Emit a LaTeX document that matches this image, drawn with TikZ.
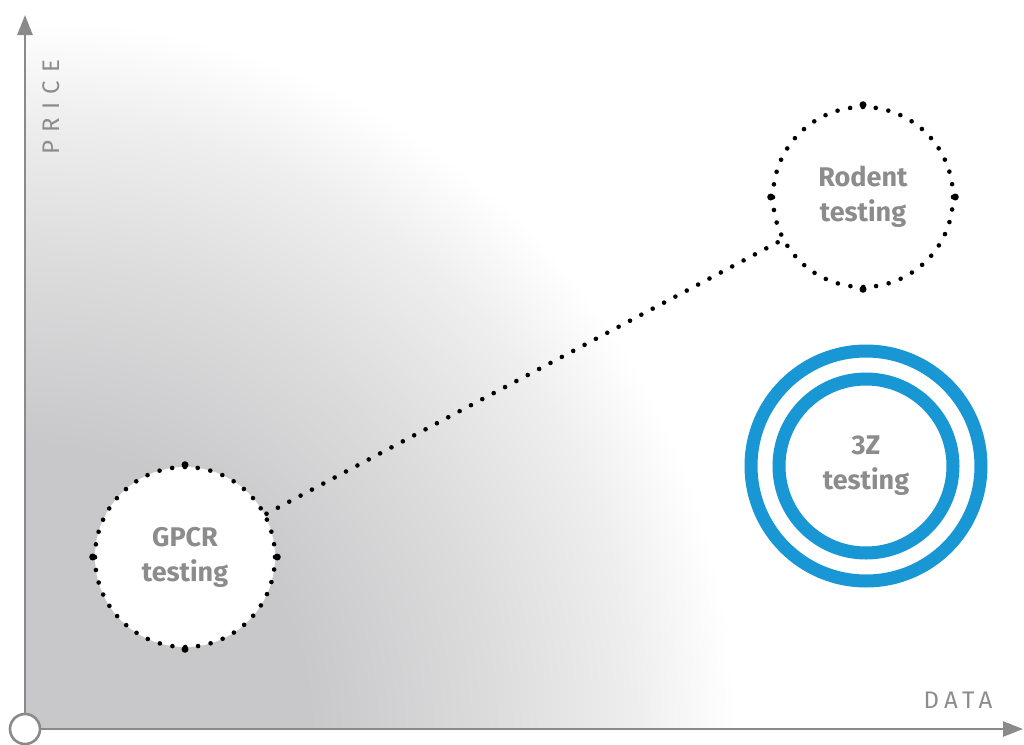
\documentclass[tikz,border=0pt]{standalone}
\usepackage{fontspec}
\setmainfont{Fira Sans}
\newfontfamily\axisfont[LetterSpace=22]{Fira Sans}
\newfontfamily\pricefont[LetterSpace=34]{Fira Sans}
\usetikzlibrary{arrows.meta}

\definecolor{axisgray}{RGB}{138,138,138}
\definecolor{labelgray}{RGB}{140,140,140}
\definecolor{ringblue}{RGB}{25,150,212}
\definecolor{fadedark}{RGB}{200,200,202}
\definecolor{fademid}{RGB}{220,220,221}
\definecolor{fadelight}{RGB}{238,238,238}

\pgfdeclareradialshading{pricefade}{\pgfpoint{0bp}{0bp}}{color(0bp)=(fadedark); color(10bp)=(fadedark); color(16.5bp)=(fademid); color(21.5bp)=(fadelight); color(25bp)=(white); color(50bp)=(white)}

\begin{document}
\begin{tikzpicture}[x=0.5pt,y=-0.5pt,
  dotline/.style={line width=2.3pt, dash pattern=on 0pt off 6.43pt, line cap=round},
  testnode/.style={circle, inner sep=0pt, minimum size=90pt, fill=white, text=labelgray, align=center, font=\fontsize{13.5}{17.5}\selectfont\bfseries},
  ring/.style={draw=ringblue, line width=6.5pt},
  axis/.style={draw=axisgray, line width=1.3pt, -{Triangle[length=10pt,width=7.5pt]}},
  axislabel/.style={text=labelgray, font=\axisfont\fontsize{12}{14}\selectfont}]
  \useasboundingbox (0,0) rectangle (1024,745);

  % grey fade in the corner
  \begin{scope}
    \clip (25,0) rectangle (1024,729);
    \shade[shading=pricefade] (25,729) circle (710);
  \end{scope}

  \node[circle, draw=axisgray, line width=1.3pt, fill=white, inner sep=0pt, minimum size=15pt] (origin) at (25,729) {};
  \coordinate (ytip) at (25,15);
  \coordinate (xtip) at (1023,729);
  \draw[axis] (origin) -- (ytip);
  \draw[axis] (origin) -- (xtip);
  \node[axislabel, font=\pricefont\fontsize{12}{14}\selectfont, rotate=90] (pricelabel) at (51,107) {PRICE};
  \node[axislabel] (datalabel) at (958,700) {DATA};

  \node[testnode, draw=black, dotline] (gpcr) at (185,557) {GPCR\\testing};
  \node[testnode, draw=black, dotline] (rodent) at (863,197) {Rodent\\testing};
  \draw[dotline] (gpcr) -- (rodent);
  \foreach \a in {north,south,east,west} {
    \fill (gpcr.\a) circle (3.5);
    \fill (rodent.\a) circle (3.5);
  }

  \node[testnode, ring, minimum size=87pt] (zthree) at (866,466) {3Z\\testing};
  \draw[ring] (zthree.center) circle (115);
\end{tikzpicture}
\end{document}
